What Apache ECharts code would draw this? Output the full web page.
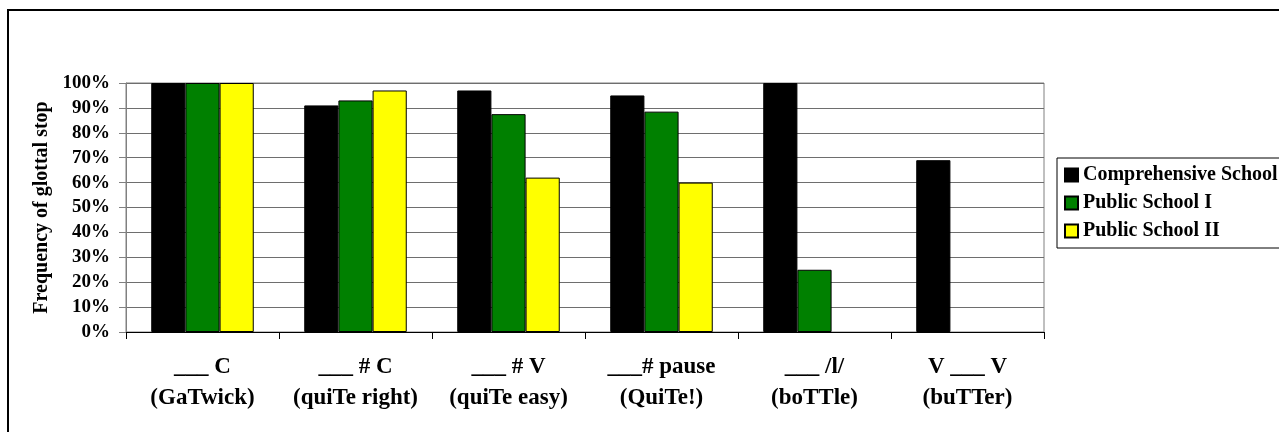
<!DOCTYPE html>
<html><head><meta charset="utf-8">
<script src="https://cdn.jsdelivr.net/npm/echarts@6/dist/echarts.min.js"></script>
<style>html,body{margin:0;padding:0;background:#fff}#c{width:1279px;height:432px}</style>
</head><body><div id="c"></div>
<script>
const categories = ['___ C\n(GaTwick)', '___ # C\n(quiTe right)', '___ # V\n(quiTe easy)', '___# pause\n(QuiTe!)', '___ /l/\n(boTTle)', 'V ___ V\n(buTTer)'];
const comprehensive = [100, 91, 97, 95, 100, 69];
const publicI = [100, 93, 87.5, 88.5, 25, null];
const publicII = [100, 97, 62, 60, null, null];
const seriesNames = ['Comprehensive School', 'Public School I', 'Public School II'];
const colors = ['#000000', '#008000', '#ffff00'];
const font = 'Liberation Serif';
const chart = echarts.init(document.getElementById('c'), null, {renderer: 'canvas'});
const mk = (name, data, color) => ({
  name, type: 'bar', data, barGap: 0, barCategoryGap: '33%',
  itemStyle: {color, borderColor: '#000', borderWidth: 1},
  emphasis: {disabled: true}
});
chart.setOption({
  animation: false,
  backgroundColor: '#fff',
  grid: {left: 126, right: 235, top: 83, bottom: 100, containLabel: false, show: true, borderColor: '#808080', borderWidth: 1, backgroundColor: 'transparent'},
  xAxis: {
    type: 'category', data: categories,
    axisLine: {lineStyle: {color: '#000', width: 1}},
    axisTick: {show: true, length: 7, lineStyle: {color: '#000'}},
    axisLabel: {interval: 0, margin: 20, fontFamily: font, fontWeight: 'bold', fontSize: 23, color: '#000', lineHeight: 31}
  },
  yAxis: {
    type: 'value', min: 0, max: 100, interval: 10,
    name: 'Frequency of glottal stop', nameLocation: 'middle', nameGap: 74, nameRotate: 90,
    nameTextStyle: {fontFamily: font, fontWeight: 'bold', fontSize: 20, color: '#000'},
    axisLine: {show: true, lineStyle: {color: '#808080', width: 1}},
    axisTick: {show: true, inside: false, length: 7, lineStyle: {color: '#808080'}},
    axisLabel: {formatter: '{value}%', margin: 16, fontFamily: font, fontWeight: 'bold', fontSize: 19, color: '#000'},
    splitLine: {show: true, lineStyle: {color: '#6e6e6e', width: 1}}
  },
  legend: {
    orient: 'vertical', left: 1057, top: 158,
    data: seriesNames,
    itemWidth: 13, itemHeight: 13, itemGap: 8,
    padding: [7, 20, 7, 7],
    borderColor: '#000', borderWidth: 1,
    icon: 'rect',
    textStyle: {fontFamily: font, fontWeight: 'bold', fontSize: 20, color: '#000'}
  },
  graphic: [{type: 'rect', shape: {x: 8, y: 10, width: 1400, height: 600}, style: {fill: 'none', stroke: '#000', lineWidth: 2}, silent: true}],
  series: [mk(seriesNames[0], comprehensive, colors[0]), mk(seriesNames[1], publicI, colors[1]), mk(seriesNames[2], publicII, colors[2])]
});
</script></body></html>
